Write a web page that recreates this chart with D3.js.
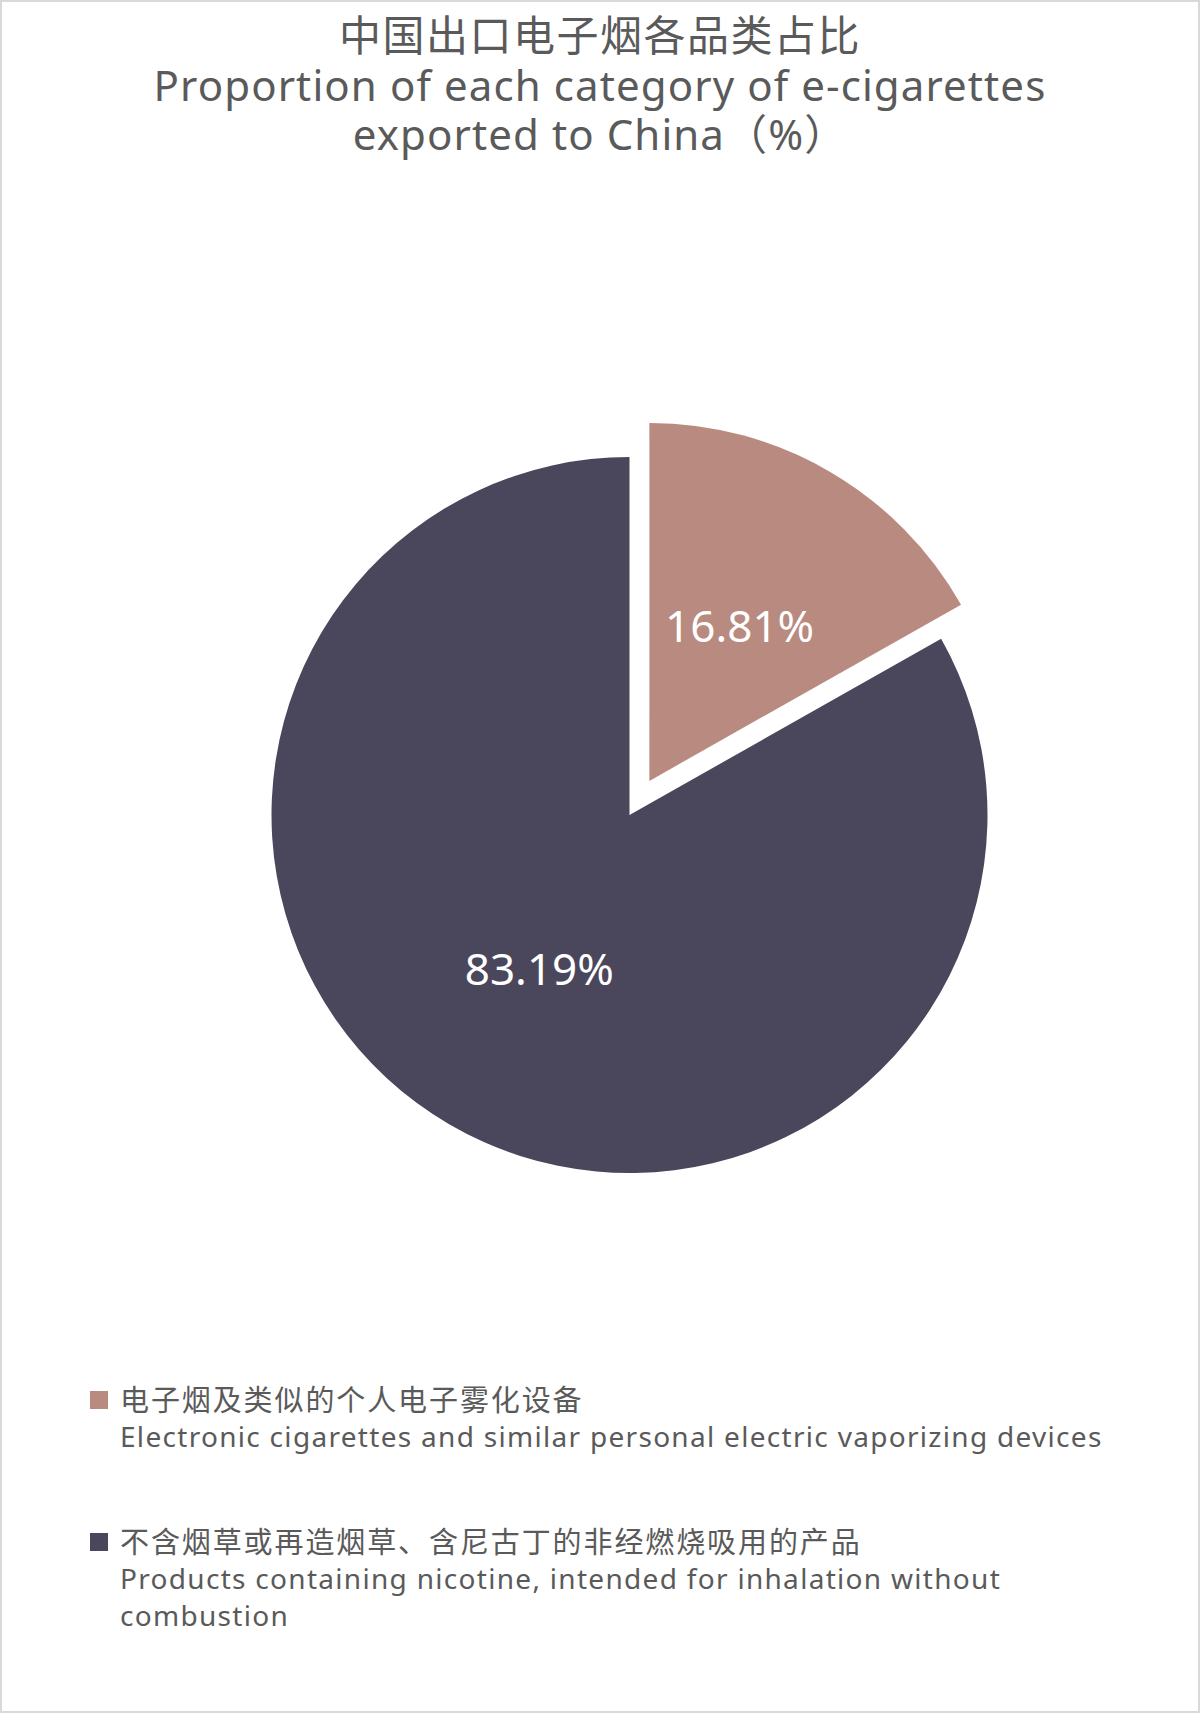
<!DOCTYPE html>
<html>
<head>
<meta charset="utf-8">
<script src="https://cdn.jsdelivr.net/npm/d3@7"></script>
<style>
  html, body { margin: 0; padding: 0; background: #fff; }
  svg { display: block; }
  text { font-family: "Noto Sans", "Noto Sans CJK SC", sans-serif; }
</style>
</head>
<body>
<svg id="chart" width="1200" height="1713"></svg>
<script>
// ---- data ----
const titleLines = ["中国出口电子烟各品类占比", "Proportion of each category of e-cigarettes", "exported to China（%）"];
const categories = ["电子烟及类似的个人电子雾化设备", "不含烟草或再造烟草、含尼古丁的非经燃烧吸用的产品"];
const categoriesEn = [
  ["Electronic cigarettes and similar personal electric vaporizing devices"],
  ["Products containing nicotine, intended for inhalation without", "combustion"]
];
const values = [16.81, 83.19];
const colors = ["#B98A80", "#4A475C"];
const exploded = [true, false];

// ---- layout ----
const W = 1200, H = 1713;
const svg = d3.select("#chart");
const textColor = "#5a5a5a";

svg.append("rect").attr("x", 1).attr("y", 1).attr("width", W - 2).attr("height", H - 2)
  .attr("fill", "#fff").attr("stroke", "#d9d9d9").attr("stroke-width", 2);

// title
const titleY = [51, 101, 150];
const titleSpacing = [1.5, 1.1, 1.1];
svg.append("g").selectAll("text").data(titleLines).join("text")
  .attr("x", 600).attr("y", (d, i) => titleY[i])
  .attr("text-anchor", "middle")
  .attr("fill", textColor)
  .attr("font-size", 42)
  .attr("letter-spacing", (d, i) => titleSpacing[i])
  .text(d => d);

// pie
const cx = 629.5, cy = 815, r = 358, explode = 39.5;
const pie = d3.pie().sort(null).value(d => d)(values);
const arc = d3.arc().innerRadius(0).outerRadius(r);

const g = svg.append("g").attr("transform", `translate(${cx},${cy})`);
const slices = g.selectAll("g.slice").data(pie).join("g").attr("class", "slice")
  .attr("transform", (d, i) => {
    if (!exploded[i]) return null;
    const a = (d.startAngle + d.endAngle) / 2;
    return `translate(${Math.sin(a) * explode},${-Math.cos(a) * explode})`;
  });
slices.append("path").attr("d", arc).attr("fill", (d, i) => colors[i]);
slices.append("text")
  .attr("transform", d => `translate(${arc.centroid(d)})`)
  .attr("text-anchor", "middle")
  .attr("dy", "0.36em")
  .attr("fill", "#fff")
  .attr("font-size", 44)
  .text(d => d.value.toFixed(2) + "%");

// legend
const legendTop = [1411, 1553];
const lg = svg.append("g");
categories.forEach((c, i) => {
  const y0 = legendTop[i];
  lg.append("rect").attr("x", 90).attr("y", y0 - 20).attr("width", 18).attr("height", 18).attr("fill", colors[i]);
  lg.append("text").attr("x", 120).attr("y", y0).attr("fill", textColor)
    .attr("font-size", 29).attr("letter-spacing", 1.9).text(c);
  categoriesEn[i].forEach((line, j) => {
    lg.append("text").attr("x", 120).attr("y", y0 + 36 + j * 37).attr("fill", textColor)
      .attr("font-size", 28).attr("letter-spacing", 1.3).text(line);
  });
});
</script>
</body>
</html>
